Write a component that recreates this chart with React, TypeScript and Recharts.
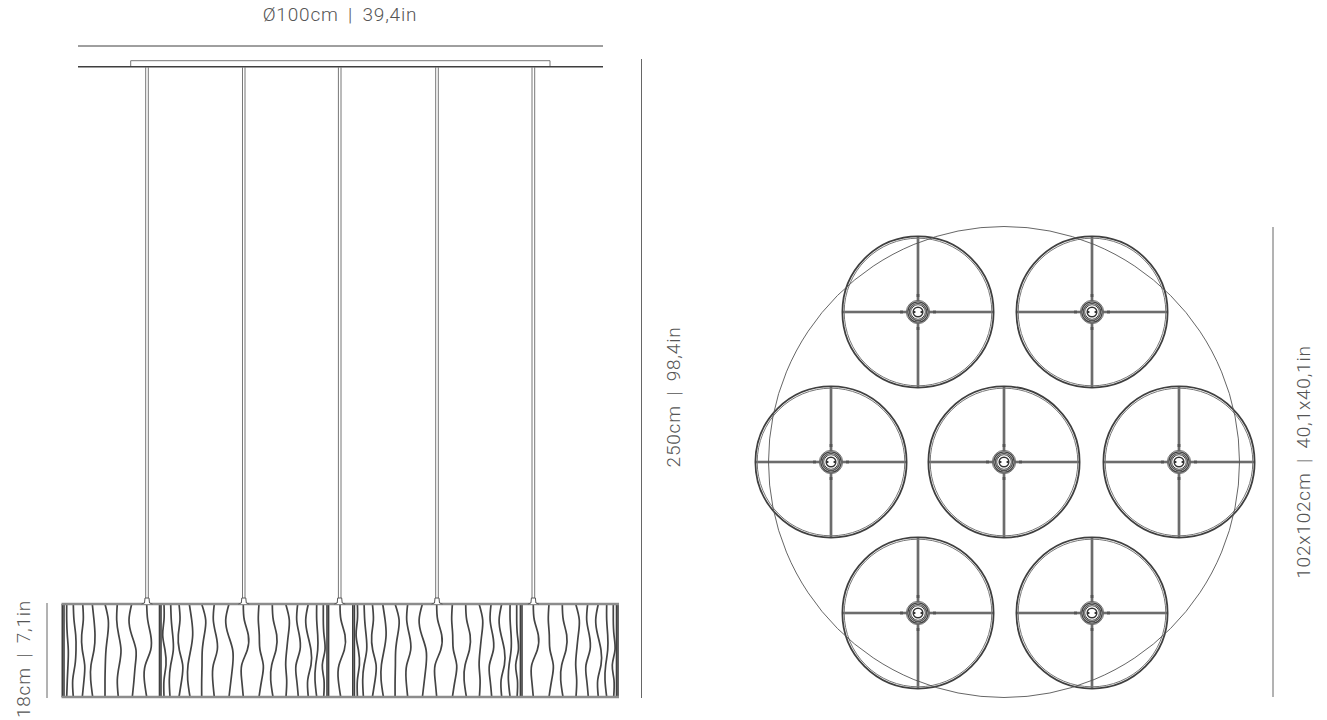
import React from "react";
import { ComposedChart, Line, Scatter, XAxis, YAxis, ReferenceDot } from "recharts";

const WIDTH = 1327;
const HEIGHT = 720;

const strandLevels = [604, 620, 635, 650, 665, 680, 697];

const shadeOneStrands = [
  [66.7, 66.7, 67.3, 68.3, 68, 67.3, 66.7],
  [73.3, 74, 75.7, 76, 75, 72.7, 73.3],
  [82.7, 83.3, 81.7, 82.3, 84.7, 84, 82.3],
  [92.3, 94, 95, 94, 91, 90.7, 92.7],
  [105, 108.3, 107.7, 106, 105.3, 105, 105],
  [117.3, 116.7, 118.7, 121, 119.3, 117.3, 118.3],
  [131.7, 129, 131.7, 136, 135.3, 134, 132.3],
  [146.7, 147.7, 150.7, 150.7, 145.3, 144.3, 146.7],
];

const shadeTwoStrands = [
  [164, 164, 162.7, 165, 166, 164, 164],
  [170.7, 171.3, 172.7, 173.3, 170.7, 169.3, 170],
  [179, 180, 178.3, 179.3, 182.7, 181.7, 179],
  [189.3, 191.7, 192.7, 190.7, 188, 187.7, 190],
  [201.7, 205.7, 204.3, 202.3, 202, 201.7, 201.7],
  [214.3, 213.3, 216, 217.3, 213.3, 212.7, 214.3],
  [229, 225.7, 228.3, 232.7, 232.7, 231, 229],
  [243.3, 244.3, 248.3, 247.3, 241.7, 241.7, 243.3],
  [259, 258.3, 259.3, 260, 263.3, 261.7, 259],
  [272.3, 273.3, 276.7, 276, 271.7, 270.7, 273],
  [285.7, 289.3, 288.3, 286.7, 285.7, 286.7, 286],
  [297.7, 296.7, 299.3, 300, 296, 296.7, 298.3],
  [308.3, 305.7, 307.7, 311, 311, 307.7, 308.3],
  [316.7, 316.7, 317.7, 317.7, 315.7, 315, 316.7],
  [323.3, 323.3, 324, 325, 322.3, 324, 323.7],
  [340, 341, 345, 344.3, 339, 338.3, 340.7],
];

const shadeThreeStrands = [
  [357.4, 357.4, 356.1, 358.4, 359.4, 357.4, 357.4],
  [364.1, 364.7, 366.1, 366.7, 364.1, 362.7, 363.4],
  [372.4, 373.4, 371.7, 372.7, 376.1, 375.1, 372.4],
  [382.7, 385.1, 386.1, 384.1, 381.4, 381.1, 383.4],
  [395.1, 399.1, 397.7, 395.7, 395.4, 395.1, 395.1],
  [407.7, 406.7, 409.4, 410.7, 406.7, 406.1, 407.7],
  [422.4, 419.1, 421.7, 426.1, 426.1, 424.4, 422.4],
  [436.7, 437.7, 441.7, 440.7, 435.1, 435.1, 436.7],
  [452.4, 451.7, 452.7, 453.4, 456.7, 455.1, 452.4],
  [465.7, 466.7, 470.1, 469.4, 465.1, 464.1, 466.4],
  [479.1, 482.7, 481.7, 480.1, 479.1, 480.1, 479.4],
  [491.1, 490.1, 492.7, 493.4, 489.4, 490.1, 491.7],
  [501.7, 499.1, 501.1, 504.4, 504.4, 501.1, 501.7],
  [510.1, 510.1, 511.1, 511.1, 509.1, 508.4, 510.1],
  [516.7, 516.7, 517.4, 518.4, 515.7, 517.4, 517.1],
];

const shadeFourStrands = [
  [533.3, 534.3, 538.3, 537.3, 531.7, 531.7, 533.3],
  [549, 548.3, 549.3, 550, 553.3, 551.7, 549],
  [562.3, 563.3, 566.7, 566, 561.7, 560.7, 563],
  [575.7, 579.3, 578.3, 576.7, 575.7, 576.7, 576],
  [587.7, 586.7, 589.3, 590, 586, 586.7, 588.3],
  [598.3, 595.7, 597.7, 601, 601, 597.7, 598.3],
  [606.7, 606.7, 607.7, 607.7, 605.7, 605, 606.7],
  [613.3, 613.3, 614, 615, 612.3, 614, 613.7],
];

const frameTops = [604, 697];
const frameXs = [62.3, 64, 159.5, 161, 327, 328.6, 352.8, 354.4, 520.4, 522, 616.5, 618];
const rodXs = [145.7, 148.3, 242.5, 245, 338.4, 341, 435.7, 438.3, 532, 534.7];
const capXs = [147, 243.8, 339.7, 437, 533.4];

const ceilingLines = [
  [{ x: 78, y: 46 }, { x: 603, y: 46 }],
  [{ x: 78, y: 66.7 }, { x: 603, y: 66.7 }],
];
const canopyLine = [
  { x: 130.7, y: 66 },
  { x: 130.7, y: 60.7 },
  { x: 550, y: 60.7 },
  { x: 550, y: 66 },
];
const dimensionLines = [
  [{ x: 641.5, y: 59 }, { x: 641.5, y: 698 }],
  [{ x: 47, y: 603 }, { x: 47, y: 698 }],
  [{ x: 1273, y: 227 }, { x: 1273, y: 697 }],
];

const outlineCircle = [{ x: 1004, y: 462 }];
const shadeCenters = [
  { x: 918, y: 312 },
  { x: 1092, y: 312 },
  { x: 831, y: 462 },
  { x: 1004, y: 462 },
  { x: 1179, y: 462 },
  { x: 918, y: 613 },
  { x: 1092, y: 613 },
];

const labels = [
  { x: 340, y: 21, text: "Ø100cm | 39,4in", angle: 0 },
  { x: 680, y: 397, text: "250cm | 98,4in", angle: -90 },
  { x: 1310, y: 462, text: "102x102cm | 40,1x40,1in", angle: -90 },
  { x: 30, y: 659, text: "18cm | 7,1in", angle: -90 },
];

const DARK = "#3f3f3f";
const GRAY = "#8c8c8c";
const TEXT = "#555";

const toPath = (xs: number[]) => xs.map((x, i) => ({ x, y: strandLevels[i] }));
const allStrands = [...shadeOneStrands, ...shadeTwoStrands, ...shadeThreeStrands, ...shadeFourStrands];

function OutlineCircle(props: any) {
  return <circle cx={props.cx} cy={props.cy} r={235.5} fill="none" stroke="#555" strokeWidth={0.9} />;
}

function ShadeGlyph({ cx, cy }: any) {
  const r = 75.6;
  const spokes = [
    [cx, cy - r, cx, cy - 11],
    [cx, cy + 11, cx, cy + r],
    [cx - r, cy, cx - 11, cy],
    [cx + 11, cy, cx + r, cy],
  ];
  const ticks = [
    [cx, cy - 18, cx, cy - 15],
    [cx, cy + 15, cx, cy + 18],
    [cx - 18, cy, cx - 15, cy],
    [cx + 15, cy, cx + 18, cy],
  ];
  return (
    <g fill="none">
      {spokes.map((s, i) => (
        <g key={i}>
          <line x1={s[0]} y1={s[1]} x2={s[2]} y2={s[3]} stroke="#555" strokeWidth={2.6} />
          <line x1={s[0]} y1={s[1]} x2={s[2]} y2={s[3]} stroke="#999" strokeWidth={0.7} />
        </g>
      ))}
      {ticks.map((s, i) => (
        <line key={i} x1={s[0]} y1={s[1]} x2={s[2]} y2={s[3]} stroke="#555" strokeWidth={2.8} />
      ))}
      <circle cx={cx} cy={cy} r={r} stroke={DARK} strokeWidth={1.8} />
      <circle cx={cx} cy={cy} r={r - 1.8} stroke="#777" strokeWidth={1} />
      <circle cx={cx} cy={cy} r={11.6} stroke="#666" strokeWidth={1} fill="#fff" />
      <circle cx={cx} cy={cy} r={10.2} stroke="#444" strokeWidth={1.3} />
      <circle cx={cx} cy={cy} r={8.6} stroke="#555" strokeWidth={1.4} />
      <circle cx={cx} cy={cy} r={7.2} stroke="#444" strokeWidth={1} />
      <circle cx={cx} cy={cy} r={5.9} stroke="#fff" strokeWidth={1.2} />
      <circle cx={cx} cy={cy} r={4.8} stroke="#333" strokeWidth={1.5} fill="#fff" />
      <rect x={cx - 2.6} y={cy - 3.4} width={5.2} height={6.8} rx={2} fill="#fff" />
      <rect x={cx - 4.2} y={cy - 1} width={1.6} height={2} fill="#333" />
      <rect x={cx + 2.6} y={cy - 1} width={1.6} height={2} fill="#333" />
    </g>
  );
}

function LabelText({ cx, cy, text, angle }: any) {
  return (
    <text
      x={cx}
      y={cy}
      textAnchor="middle"
      transform={angle ? `rotate(${angle} ${cx} ${cy})` : undefined}
      fill={TEXT}
      fontFamily="Roboto, sans-serif"
      fontWeight={300}
      fontSize={19}
      letterSpacing={0.8}
      wordSpacing={4}
    >
      {text}
    </text>
  );
}

function CapMark({ cx, cy }: any) {
  return (
    <path
      d={`M${cx - 5.5} ${cy + 6} L${cx - 2.5} ${cy + 5} L${cx - 2} ${cy} L${cx + 2} ${cy} L${cx + 2.5} ${cy + 5} L${cx + 5.5} ${cy + 6}`}
      fill="#fff"
      stroke="#555"
      strokeWidth={1}
    />
  );
}

const lineProps = { dataKey: "y", dot: false, activeDot: false, isAnimationActive: false, legendType: "none" as const };

export default function App() {
  return (
    <div style={{ position: "absolute", left: 0, top: 0, width: WIDTH, height: HEIGHT, background: "#fff" }}>
      <ComposedChart width={WIDTH} height={HEIGHT} margin={{ top: 0, right: 0, bottom: 0, left: 0 }} accessibilityLayer={false}>
        <XAxis type="number" dataKey="x" domain={[0, WIDTH]} hide />
        <YAxis type="number" dataKey="y" domain={[0, HEIGHT]} reversed hide width={0} />

        {ceilingLines.map((d, i) => (
          <Line key={`ceil${i}`} {...lineProps} data={d} stroke={DARK} strokeWidth={i === 0 ? 1 : 1.6} />
        ))}
        <Line {...lineProps} data={canopyLine} stroke="#777" strokeWidth={1} />
        {dimensionLines.map((d, i) => (
          <Line key={`dim${i}`} {...lineProps} data={d} stroke="#666" strokeWidth={1} />
        ))}
        {rodXs.map((x) => (
          <Line key={`rod${x}`} {...lineProps} data={[{ x, y: 67 }, { x, y: 598 }]} stroke="#777" strokeWidth={1} />
        ))}
        {allStrands.map((xs, i) => (
          <Line key={`st${i}`} {...lineProps} data={toPath(xs)} type="natural" stroke="#444" strokeWidth={1.7} />
        ))}
        {frameXs.map((x) => (
          <Line key={`fr${x}`} {...lineProps} data={[{ x, y: 604 }, { x, y: 697 }]} stroke={DARK} strokeWidth={1.6} />
        ))}
        {frameTops.map((y) => (
          <Line key={`bar${y}`} {...lineProps} data={[{ x: 61.5, y }, { x: 619, y }]} stroke={GRAY} strokeWidth={2.6} />
        ))}
        <Scatter data={capXs.map((x) => ({ x, y: 598 }))} shape={CapMark} isAnimationActive={false} />

        <Scatter data={shadeCenters} shape={ShadeGlyph} isAnimationActive={false} />
        <Scatter data={outlineCircle} shape={OutlineCircle} isAnimationActive={false} />

        {labels.map((l) => (
          <ReferenceDot key={l.text} x={l.x} y={l.y} r={0} shape={(p: any) => <LabelText {...p} text={l.text} angle={l.angle} />} />
        ))}
      </ComposedChart>
    </div>
  );
}
